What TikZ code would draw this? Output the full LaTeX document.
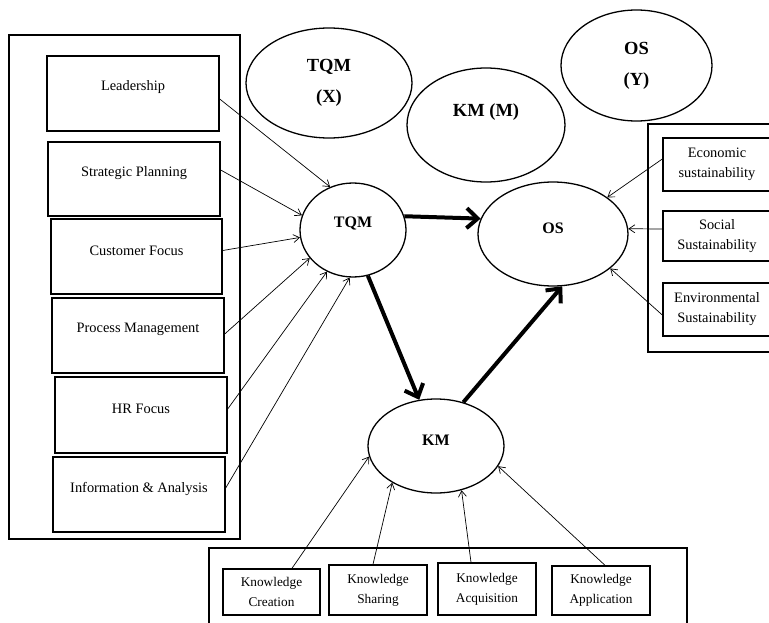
\documentclass[tikz,border=0pt]{standalone}
\usepackage{fontspec}
\setmainfont{Liberation Serif}
\usetikzlibrary{arrows.meta,shapes.geometric}
\begin{document}
\begin{tikzpicture}[x=1pt,y=-1pt,
  frame/.style={draw,line width=1.6pt},
  box/.style={draw,line width=1.4pt,rectangle,inner sep=0pt},
  lbl/.style={font=\fontsize{14.4}{17}\selectfont},
  rlbl/.style={align=center,font=\fontsize{14.4}{20}\selectfont},
  blbl/.style={align=center,font=\fontsize{13.3}{20}\selectfont},
  oval/.style={draw,ellipse,line width=1.3pt,inner sep=0pt},
  hlbl/.style={font=\bfseries\fontsize{18.5}{31}\selectfont,align=center},
  elbl/.style={font=\bfseries\fontsize{16}{19}\selectfont},
  link/.style={line width=0.7pt,-{Straight Barb[length=6pt,width=8pt]}},
  bigarrow/.style={line width=4pt,-{Straight Barb[length=11pt,width=20pt]}}]
\useasboundingbox (0,0) rectangle (769,623);
\clip (0,0) rectangle (769,623);

% frames
\draw[frame] (9,35) rectangle (240,539);
\draw[frame] (648,124) rectangle (785,352);
\draw[frame] (209,548) rectangle (687,645);

% left boxes
\node[box,minimum width=172pt,minimum height=75pt,label={[lbl,yshift=6pt]center:Leadership}] (lead) at (133,93.5) {};
\node[box,minimum width=172pt,minimum height=74pt,label={[lbl,yshift=6pt]center:Strategic Planning}] (strat) at (134,179) {};
\node[box,minimum width=171pt,minimum height=75pt,label={[lbl,yshift=6pt]center:Customer Focus}] (cust) at (136.5,256.5) {};
\node[box,minimum width=172pt,minimum height=75pt,label={[lbl,yshift=6pt]center:Process Management}] (proc) at (138,335.5) {};
\node[box,minimum width=172pt,minimum height=76pt,label={[lbl,yshift=6pt]center:HR Focus}] (hr) at (141,415) {};
\node[box,minimum width=172pt,minimum height=75pt,label={[lbl,yshift=6pt]center:Information \& Analysis}] (info) at (139,494.5) {};

% right boxes
\node[box,rlbl,minimum width=108pt,minimum height=53pt] (eco) at (717,164.5) {Economic\\sustainability};
\node[box,rlbl,minimum width=108pt,minimum height=50pt] (soc) at (717,236) {Social\\Sustainability};
\node[box,rlbl,minimum width=108pt,minimum height=53pt] (env) at (717,309.5) {Environmental\\Sustainability};

% bottom boxes
\node[box,blbl,minimum width=97pt,minimum height=46pt] (kc) at (271.5,592) {Knowledge\\Creation};
\node[box,blbl,minimum width=98pt,minimum height=50pt] (ks) at (378,590) {Knowledge\\Sharing};
\node[box,blbl,minimum width=98pt,minimum height=52pt] (kq) at (487,589) {Knowledge\\Acquisition};
\node[box,blbl,minimum width=98pt,minimum height=49pt] (ka) at (601,590.5) {Knowledge\\Application};

% legend ellipses
\node[oval,hlbl,minimum width=166pt,minimum height=110pt] (tqmx) at (329,83) {TQM\\(X)};
\node[oval,minimum width=158pt,minimum height=114pt,label={[hlbl,yshift=13pt]center:KM (M)}] (kmm) at (486,125) {};
\node[oval,hlbl,minimum width=151pt,minimum height=111pt] (osy) at (636.5,65.5) {OS\\(Y)};

% construct ellipses
\node[oval,minimum width=106pt,minimum height=94pt,label={[elbl,yshift=7pt]center:TQM}] (tqm) at (353,230) {};
\node[oval,minimum width=150pt,minimum height=104pt,label={[elbl,yshift=6pt]center:OS}] (os) at (553,234) {};
\node[oval,minimum width=136pt,minimum height=94pt,label={[elbl,yshift=6pt]center:KM}] (km) at (436,446) {};

% indicator links
\draw[link] ([yshift=-5.5pt]lead.east) -- (tqm.118);
\draw[link] ([yshift=9pt]strat.east) -- (tqm.164);
\draw[link] ([yshift=6pt]cust.east) -- (tqm.188);
\draw[link] ([yshift=1.5pt]proc.east) -- (tqm.213);
\draw[link] ([yshift=6pt]hr.east) -- (tqm.238);
\draw[link] ([yshift=6.5pt]info.east) -- (tqm.266);

\draw[link] ([yshift=5.5pt]eco.west) -- (os.34);
\draw[link] ([yshift=7pt]soc.west) -- (os.4);
\draw[link] ([yshift=-5.5pt]env.west) -- (os.329);

\draw[link] ([xshift=20.5pt]kc.north) -- (km.189);
\draw[link] ([xshift=-5pt]ks.north) -- (km.220);
\draw[link] ([xshift=-16pt]kq.north) -- (km.300);
\draw[link] ([xshift=4pt]ka.north) -- (km.342);

% structural paths
\draw[bigarrow] (tqm.15) -- (os.168);
\draw[bigarrow] (tqm.288) -- (km.110);
\draw[bigarrow] (km.58) -- (os.280);
\end{tikzpicture}
\end{document}
